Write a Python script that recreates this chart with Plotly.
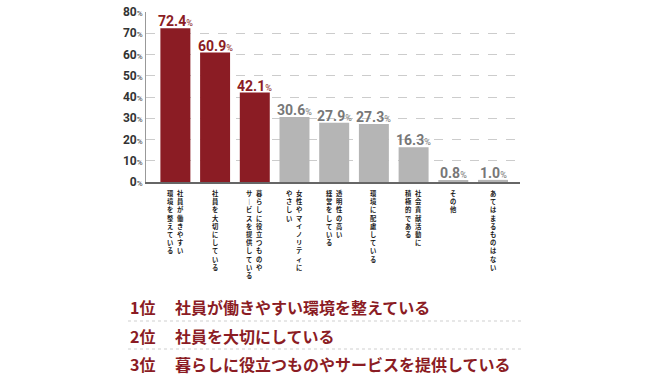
import plotly.graph_objects as go

# ---- data ----
categories = [
    "社員が働きやすい環境を整えている",
    "社員を大切にしている",
    "暮らしに役立つものやサービスを提供している",
    "女性やマイノリティにやさしい",
    "透明性の高い経営をしている",
    "環境に配慮している",
    "社会貢献活動に積極的である",
    "その他",
    "あてはまるものはない",
]
# vertical label columns (right column first, as read in vertical Japanese)
label_columns = [
    ["社員が働きやすい", "環境を整えている"],
    ["社員を大切にしている"],
    ["暮らしに役立つものや", "サービスを提供している"],
    ["女性やマイノリティに", "やさしい"],
    ["透明性の高い", "経営をしている"],
    ["環境に配慮している"],
    ["社会貢献活動に", "積極的である"],
    ["その他"],
    ["あてはまるものはない"],
]
values = [72.4, 60.9, 42.1, 30.6, 27.9, 27.3, 16.3, 0.8, 1.0]
highlight_count = 3
y_ticks = [0, 10, 20, 30, 40, 50, 60, 70, 80]
ranking = [
    ("1位", "社員が働きやすい環境を整えている"),
    ("2位", "社員を大切にしている"),
    ("3位", "暮らしに役立つものやサービスを提供している"),
]

RED = "#8b1c24"
GRAY_BAR = "#b5b5b5"
GRAY_TXT = "#777777"
NUM_FONT = "Roboto"
JP_FONT = "Noto Sans CJK JP"

x_idx = list(range(len(categories)))
colors = [RED if i < highlight_count else GRAY_BAR for i in x_idx]

fig = go.Figure()
fig.add_trace(go.Bar(
    x=x_idx, y=values, marker=dict(color=colors, line=dict(width=0)),
    hoverinfo="skip", showlegend=False,
))

annotations = []
# value labels
for i, v in enumerate(values):
    c = RED if i < highlight_count else GRAY_TXT
    annotations.append(dict(
        x=i, y=v, xref="x", yref="y", xanchor="center", yanchor="bottom",
        text=f"<b>{v:.1f}</b><span style='font-size:9px'>%</span>",
        showarrow=False, yshift=-2, borderpad=0,
        font=dict(family=NUM_FONT, size=14, color=c),
    ))

# vertical category labels, one annotation per column
COL_GAP = 10
for i, cols in enumerate(label_columns):
    n = len(cols)
    for ci, col in enumerate(cols):
        xshift = (n - 1) / 2 * COL_GAP - ci * COL_GAP  # right column first
        txt = "<br>".join("｜" if ch == "ー" else ch for ch in col)
        annotations.append(dict(
            x=i, y=0, xref="x", yref="paper", xanchor="center", yanchor="top",
            text=f"<b>{txt}</b>", showarrow=False, xshift=xshift, yshift=-6,
            borderpad=0, align="center",
            font=dict(family=JP_FONT, size=6.3, color="#1a1a1a"),
        ))

# ranking text
L = 146
T = 12
PW = 374
PH = 170
def px_x(px):
    return (px - L) / PW
def px_y(py):
    return (T + PH - py) / PH

row_y = [307, 336, 364]
for (rk, txt), py in zip(ranking, row_y):
    annotations.append(dict(
        x=px_x(128), y=px_y(py), xref="paper", yref="paper", xanchor="left", yanchor="middle",
        text=f"<b>{rk}</b>", showarrow=False,
        font=dict(family=JP_FONT, size=16, color=RED),
    ))
    annotations.append(dict(
        x=px_x(173), y=px_y(py), xref="paper", yref="paper", xanchor="left", yanchor="middle",
        text=f"<b>{txt}</b>", showarrow=False,
        font=dict(family=JP_FONT, size=16, color=RED),
    ))

shapes = []
for py in [321, 349]:
    shapes.append(dict(
        type="line", xref="paper", yref="paper",
        x0=px_x(128), x1=px_x(521), y0=px_y(py), y1=px_y(py),
        line=dict(color="#cfcfcf", width=1, dash="dot"),
    ))

fig.update_layout(
    width=650, height=380,
    margin=dict(l=L, r=650 - L - PW, t=T, b=380 - T - PH),
    paper_bgcolor="white", plot_bgcolor="white",
    bargap=0.245,
    annotations=annotations,
    shapes=shapes,
    xaxis=dict(
        range=[-0.74, 8.68], showticklabels=False, ticks="",
        showgrid=False, zeroline=False, automargin=False,
        showline=True, linecolor="#666666", linewidth=1.5,
    ),
    yaxis=dict(
        range=[0, 80], tickvals=y_ticks, automargin=False,
        ticktext=[f"<b>{t}</b><span style='font-size:8px'>%</span>" for t in y_ticks],
        tickfont=dict(family=NUM_FONT, size=12, color="#333333"),
        ticks="", ticklen=0,
        showgrid=True, gridcolor="#cccccc", griddash="dash", gridwidth=1,
        zeroline=False, showline=True, linecolor="#999999", linewidth=1,
    ),
)

fig.write_html("out.html", config={"displayModeBar": False},
               post_script="document.body.style.margin='0px';")
